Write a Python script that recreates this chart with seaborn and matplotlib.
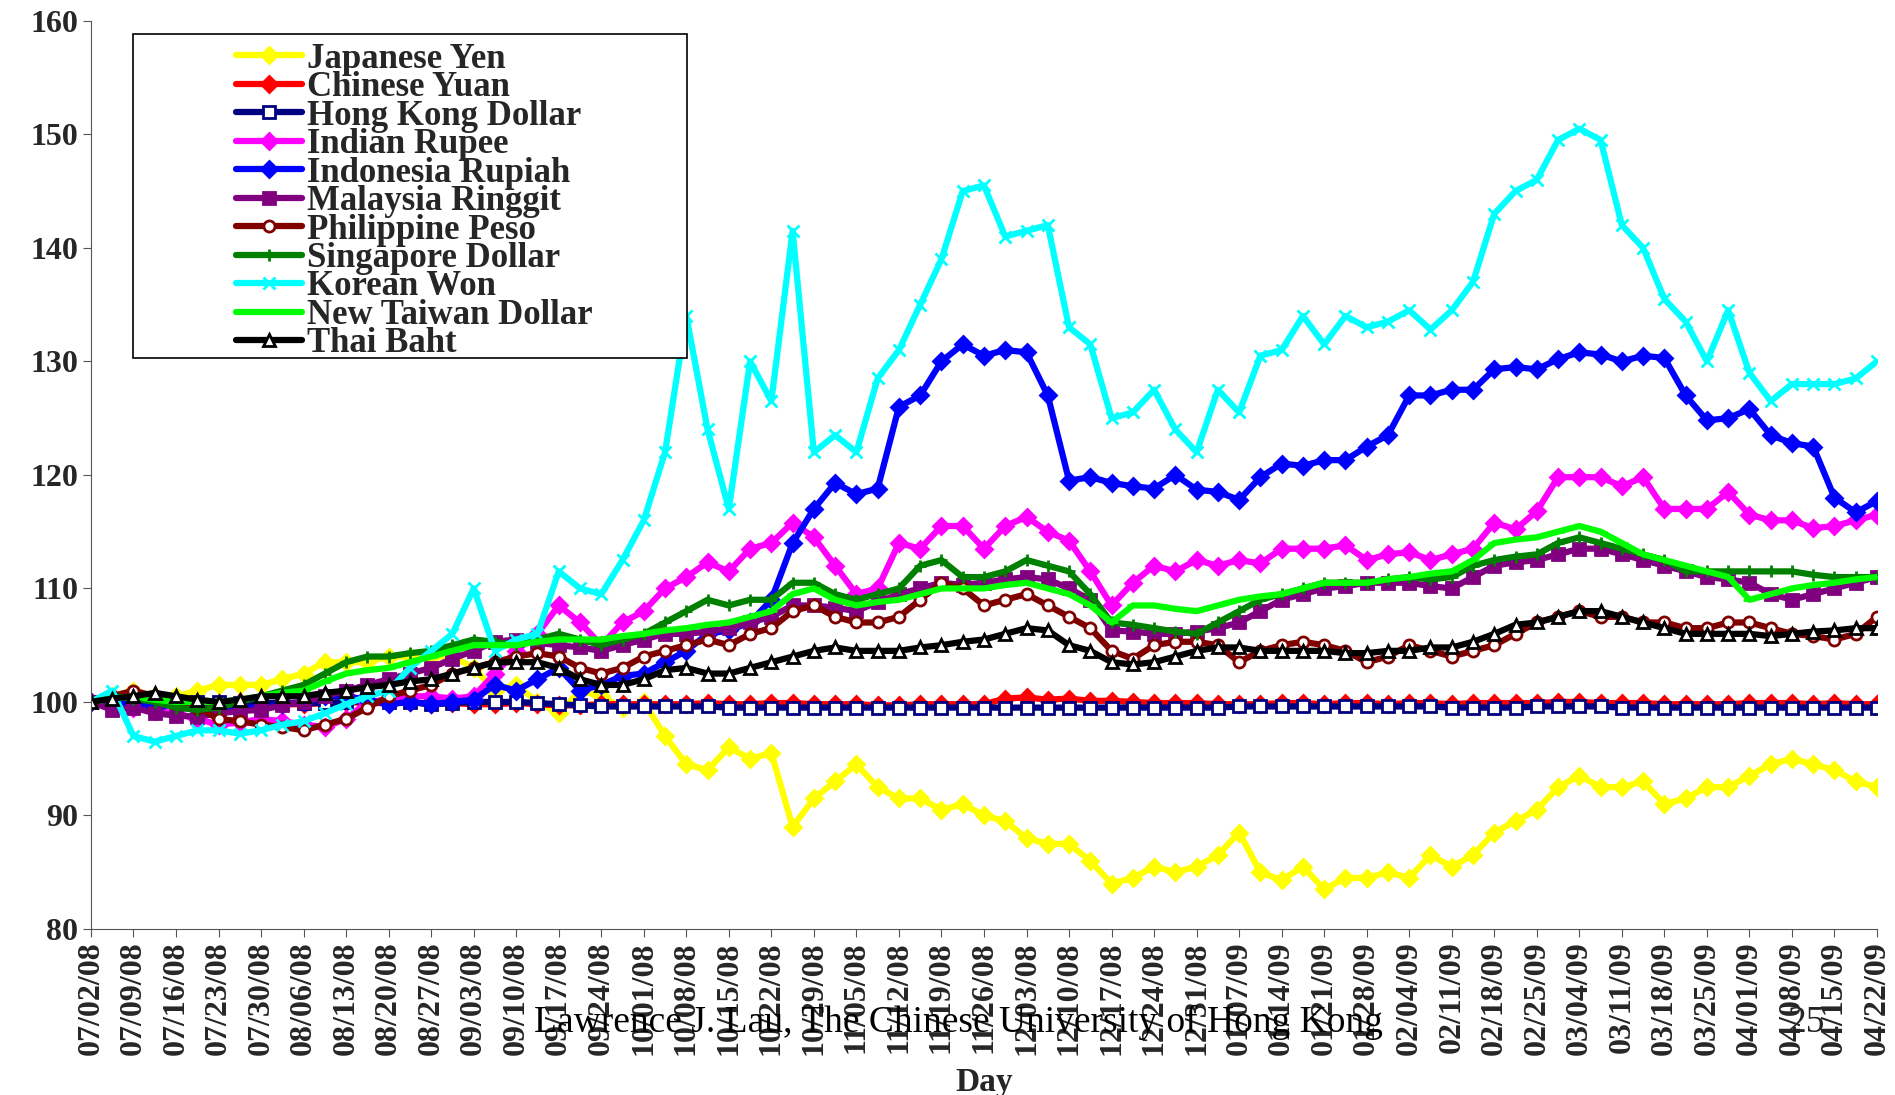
import numpy as np
import pandas as pd
import matplotlib
matplotlib.use("Agg")
import matplotlib.pyplot as plt
from matplotlib.patches import Rectangle
import seaborn as sns

# Weekly tick labels (every Wednesday), data sampled twice a week
tick_labels = [
    "07/02/08", "07/09/08", "07/16/08", "07/23/08", "07/30/08", "08/06/08", "08/13/08",
    "08/20/08", "08/27/08", "09/03/08", "09/10/08", "09/17/08", "09/24/08", "10/01/08",
    "10/08/08", "10/15/08", "10/22/08", "10/29/08", "11/05/08", "11/12/08", "11/19/08",
    "11/26/08", "12/03/08", "12/10/08", "12/17/08", "12/24/08", "12/31/08", "01/07/09",
    "01/14/09", "01/21/09", "01/28/09", "02/04/09", "02/11/09", "02/18/09", "02/25/09",
    "03/04/09", "03/11/09", "03/18/09", "03/25/09", "04/01/09", "04/08/09", "04/15/09",
    "04/22/09",
]

japanese_yen = [
    100, 100.5, 101, 100.5, 100.5, 101, 101.5, 101.5, 101.5, 102, 102.5, 103.5, 103.5, 103.5,
    104, 104, 104, 104, 103, 101, 101.5, 100, 99, 101, 100.5, 99.5, 100, 97, 94.5, 94,
    96, 95, 95.5, 89, 91.5, 93, 94.5, 92.5, 91.5, 91.5, 90.5, 91, 90, 89.5, 88, 87.5,
    87.5, 86, 84, 84.5, 85.5, 85, 85.5, 86.5, 88.5, 85, 84.3, 85.5, 83.5, 84.5, 84.5, 85,
    84.5, 86.5, 85.5, 86.5, 88.5, 89.5, 90.5, 92.5, 93.5, 92.5, 92.5, 93, 91, 91.5, 92.5,
    92.5, 93.5, 94.5, 95, 94.5, 94, 93, 92.5,
]
chinese_yuan = [
    100, 100.2, 100.3, 100.2, 100, 99.9, 99.9, 100, 99.9, 99.8, 99.8, 99.9, 100, 99.9, 99.9,
    100, 99.8, 99.9, 99.8, 99.8, 99.9, 99.8, 99.7, 99.7, 99.8, 99.8, 99.8, 99.8, 99.8, 99.9,
    99.8, 99.8, 99.9, 99.9, 99.8, 99.8, 99.8, 99.7, 99.7, 99.8, 99.8, 99.8, 99.8, 100.3,
    100.4, 100.2, 100.3, 100.1, 100.1, 100, 99.9, 99.9, 99.9, 99.8, 99.8, 99.8, 99.9, 99.9,
    99.8, 99.9, 99.9, 99.8, 99.9, 99.9, 99.8, 99.9, 99.9, 99.9, 99.9, 100, 100, 99.9, 99.9,
    99.9, 99.8, 99.8, 99.8, 99.8, 99.9, 99.9, 99.9, 99.8, 99.9, 99.8, 99.8,
]
hong_kong_dollar = [
    100, 100.1, 100.2, 100.1, 100, 100, 100, 99.9, 99.9, 99.9, 99.9, 99.9, 100, 100.1, 100,
    100, 99.8, 99.9, 100, 100, 100, 99.9, 99.8, 99.7, 99.6, 99.6, 99.6, 99.6, 99.6, 99.6,
    99.5, 99.5, 99.5, 99.5, 99.5, 99.5, 99.5, 99.5, 99.5, 99.5, 99.5, 99.5, 99.5, 99.5,
    99.5, 99.5, 99.5, 99.5, 99.5, 99.5, 99.5, 99.5, 99.5, 99.5, 99.6, 99.6, 99.6, 99.6,
    99.6, 99.6, 99.6, 99.6, 99.6, 99.6, 99.5, 99.5, 99.5, 99.5, 99.6, 99.6, 99.6, 99.6,
    99.5, 99.5, 99.5, 99.5, 99.5, 99.5, 99.5, 99.5, 99.5, 99.5, 99.5, 99.5, 99.5,
]
indian_rupee = [
    100, 100, 99.5, 99.2, 99, 98.5, 98, 98.2, 98.5, 98.3, 98, 97.8, 98.5, 100, 100.2, 100.5,
    100.5, 100.3, 100.5, 102.5, 104.5, 106, 108.5, 107, 105, 107, 108, 110, 111, 112.3,
    111.5, 113.5, 114, 115.8, 114.5, 112, 109.5, 110, 114, 113.5, 115.5, 115.5, 113.5,
    115.5, 116.3, 115, 114.2, 111.5, 108.5, 110.5, 112, 111.5, 112.5, 112, 112.5, 112.2,
    113.5, 113.5, 113.5, 113.8, 112.5, 113, 113.2, 112.5, 113, 113.5, 115.8, 115.2, 116.8,
    119.8, 119.8, 119.8, 119, 119.8, 117, 117, 117, 118.5, 116.5, 116, 116, 115.3, 115.5,
    116, 116.5,
]
indonesia_rupiah = [
    100, 100, 99.8, 99.5, 99.8, 99.5, 99.3, 99.5, 99.5, 99.8, 100, 100.5, 100.5, 100.2, 99.8,
    100, 99.8, 100, 100.2, 101.5, 101, 102, 103, 101, 101.5, 102.3, 102.5, 103.5, 104.5, 106,
    106.3, 107, 109, 114, 117, 119.3, 118.3, 118.8, 126, 127, 130, 131.5, 130.5, 131, 130.8,
    127, 119.5, 119.8, 119.3, 119, 118.8, 120, 118.7, 118.5, 117.8, 119.8, 121, 120.8, 121.3,
    121.3, 122.5, 123.5, 127, 127, 127.5, 127.5, 129.3, 129.5, 129.3, 130.2, 130.8, 130.6,
    130, 130.5, 130.3, 127, 124.8, 125, 125.8, 123.5, 122.8, 122.5, 118, 116.7, 117.7,
]
malaysia_ringgit = [
    100, 99.3, 99.5, 99, 98.8, 98.7, 99, 99.2, 99.3, 99.7, 100, 100.5, 101, 101.5, 102, 102.5,
    103, 103.8, 104.5, 105.3, 105.5, 105.2, 105, 104.8, 104.5, 105, 105.5, 106, 106, 106.2,
    106.5, 107, 107.5, 108.5, 108.5, 108.3, 108, 108.8, 109.5, 110, 110.5, 110.3, 110.5,
    110.8, 111, 110.8, 110, 109, 106.3, 106.2, 106, 106, 106.2, 106.5, 107, 108, 109, 109.5,
    110, 110.2, 110.5, 110.5, 110.5, 110.2, 110, 111, 112, 112.3, 112.5, 113, 113.5, 113.5,
    113, 112.5, 112, 111.5, 111, 110.8, 110.5, 109.5, 109, 109.5, 110, 110.5, 111,
]
philippine_peso = [
    100, 100.5, 101, 100.5, 100, 99.5, 98.5, 98.3, 98, 97.8, 97.5, 98, 98.5, 99.5, 100.5, 101,
    101.5, 102.5, 103, 103.5, 104, 104.3, 104, 103, 102.5, 103, 104, 104.5, 105, 105.5, 105,
    106, 106.5, 108, 108.5, 107.5, 107, 107, 107.5, 109, 110.5, 110, 108.5, 109, 109.5,
    108.5, 107.5, 106.5, 104.5, 103.8, 105, 105.3, 105.3, 105, 103.5, 104.5, 105, 105.3, 105,
    104.5, 103.5, 104, 105, 104.5, 104, 104.5, 105, 106, 107, 107.5, 108, 107.5, 107.5, 107,
    107, 106.5, 106.5, 107, 107, 106.5, 106, 105.8, 105.5, 106, 107.5,
]
singapore_dollar = [
    100, 100.5, 100.3, 100, 99.5, 99.3, 99.5, 100, 100.5, 101, 101.5, 102.5, 103.5, 104, 104,
    104.3, 104.5, 105, 105.5, 105.3, 105, 105.5, 106, 105.5, 105, 105.5, 106, 107, 108, 109,
    108.5, 109, 109, 110.5, 110.5, 109.5, 109, 109.5, 110, 112, 112.5, 111, 111, 111.5, 112.5,
    112, 111.5, 109.5, 107, 106.8, 106.5, 106.2, 106, 107, 108, 109, 109.5, 110, 110.5, 110.5,
    110.5, 110.8, 111, 110.8, 111, 112, 112.5, 112.8, 113, 114, 114.5, 114, 113.5, 113, 112.5,
    111.5, 111.5, 111.5, 111.5, 111.5, 111.5, 111.2, 111, 111, 111,
]
korean_won = [
    100, 101, 97, 96.5, 97, 97.5, 97.5, 97.2, 97.5, 98, 98.3, 99, 99.8, 100.5, 101, 103, 104.5,
    106, 110, 104.5, 105.5, 106, 111.5, 110, 109.5, 112.5, 116, 122, 134, 124, 117, 130, 126.5,
    141.5, 122, 123.5, 122, 128.5, 131, 135, 139, 145, 145.5, 141, 141.5, 142, 133, 131.5, 125,
    125.5, 127.5, 124, 122, 127.5, 125.5, 130.5, 131, 134, 131.5, 134, 133, 133.5, 134.5,
    132.8, 134.5, 137, 143, 145, 146, 149.5, 150.5, 149.5, 142, 140, 135.5, 133.5, 130, 134.5,
    129, 126.5, 128, 128, 128, 128.5, 130,
]
new_taiwan_dollar = [
    100, 100.3, 100.5, 100.2, 100, 100, 100, 100.2, 100.5, 100.8, 101, 101.8, 102.5, 102.8, 103,
    103.5, 104, 104.5, 105, 105, 105, 105.3, 105.5, 105.5, 105.5, 105.8, 106, 106.3, 106.5,
    106.8, 107, 107.5, 108, 109.5, 110, 109, 108.5, 108.8, 109, 109.5, 110, 110, 110, 110.3,
    110.5, 110, 109.5, 108.5, 107, 108.5, 108.5, 108.2, 108, 108.5, 109, 109.3, 109.5, 110,
    110.5, 110.5, 110.5, 110.8, 111, 111.3, 111.5, 112.5, 114, 114.3, 114.5, 115, 115.5, 115,
    114, 113, 112.5, 112, 111.5, 111, 109, 109.5, 110, 110.3, 110.5, 110.8, 111,
]
thai_baht = [
    100, 100.3, 100.5, 100.8, 100.5, 100.2, 100, 100.2, 100.5, 100.5, 100.5, 100.8, 101, 101.3,
    101.5, 101.8, 102, 102.5, 103, 103.5, 103.5, 103.5, 103, 102, 101.5, 101.5, 102, 102.8, 103,
    102.5, 102.5, 103, 103.5, 104, 104.5, 104.8, 104.5, 104.5, 104.5, 104.8, 105, 105.3, 105.5,
    106, 106.5, 106.3, 105, 104.5, 103.5, 103.3, 103.5, 104, 104.5, 104.8, 104.8, 104.5, 104.5,
    104.5, 104.5, 104.3, 104.3, 104.5, 104.5, 104.8, 104.8, 105.3, 106, 106.8, 107, 107.5, 108,
    108, 107.5, 107, 106.5, 106, 106, 106, 106, 105.8, 106, 106.2, 106.3, 106.5, 106.5,
]

series = [
    ("Japanese Yen", japanese_yen, "#FFFF00", "D", "#FFFF00"),
    ("Chinese Yuan", chinese_yuan, "#FF0000", "D", "#FF0000"),
    ("Hong Kong Dollar", hong_kong_dollar, "#000080", "s", "white"),
    ("Indian Rupee", indian_rupee, "#FF00FF", "D", "#FF00FF"),
    ("Indonesia Rupiah", indonesia_rupiah, "#0000FF", "D", "#0000FF"),
    ("Malaysia Ringgit", malaysia_ringgit, "#800080", "s", "#800080"),
    ("Philippine Peso", philippine_peso, "#800000", "o", "white"),
    ("Singapore Dollar", singapore_dollar, "#008000", "+", "#008000"),
    ("Korean Won", korean_won, "#00FFFF", "x", "#00FFFF"),
    ("New Taiwan Dollar", new_taiwan_dollar, "#00FF00", "_", "#00FF00"),
    ("Thai Baht", thai_baht, "#000000", "^", "white"),
]

sns.set_style("ticks")
plt.rcParams["font.family"] = ["Liberation Serif", "DejaVu Serif"]
plt.rcParams["font.weight"] = "bold"

fig, ax = plt.subplots(figsize=(18.95, 10.95), dpi=100)
fig.subplots_adjust(left=0.048, right=0.9905, top=0.981, bottom=0.1516)

for name, vals, color, marker, face in series:
    x = np.arange(len(vals)) / 2.0
    df = pd.DataFrame({"week": x, "value": vals})
    sns.lineplot(data=df, x="week", y="value", ax=ax, color=color, linewidth=4.5,
                 marker=marker, markersize=8, markerfacecolor=face,
                 markeredgecolor=color, markeredgewidth=2, label=name, sort=False)

ax.set_xlim(0, len(tick_labels) - 1)
ax.set_ylim(80, 160)
ax.set_xticks(np.arange(len(tick_labels)))
ax.set_xticklabels(tick_labels, rotation=90, fontsize=23, fontweight="bold")
ax.set_yticks(np.arange(80, 161, 10))
ax.set_yticklabels([str(v) for v in range(80, 161, 10)], fontsize=23, fontweight="bold")
ax.tick_params(direction="out", length=6, color="#555555", pad=3)
for side in ["top", "right"]:
    ax.spines[side].set_visible(False)
for side in ["left", "bottom"]:
    ax.spines[side].set_color("#555555")
ax.set_xlabel("Day", fontsize=24, fontweight="bold")
ax.xaxis.set_label_coords(0.5, -0.152)
ax.set_ylabel("")

# legend box (wider than its entries, as in the original)
box = Rectangle((0.0237, 0.629), 0.31, 0.3564, transform=ax.transAxes, facecolor="white",
                edgecolor="black", linewidth=1.2, zorder=4)
ax.add_patch(box)
leg = ax.legend(loc="upper left", bbox_to_anchor=(0.081, 0.976), frameon=False,
                handlelength=1.9, handletextpad=0.15, labelspacing=-0.13, borderpad=0,
                borderaxespad=0,
                prop={"family": "Liberation Serif", "weight": "bold", "size": 25})
leg.set_zorder(5)

fig.text(0.506, 0.066, "Lawrence J. Lau, The Chinese University of Hong Kong", ha="center",
         va="center", fontsize=27, fontweight="normal", color="black")
fig.text(0.953, 0.066, "25", ha="center", va="center", fontsize=27, fontweight="normal")

fig.savefig("out.png", dpi=100)
